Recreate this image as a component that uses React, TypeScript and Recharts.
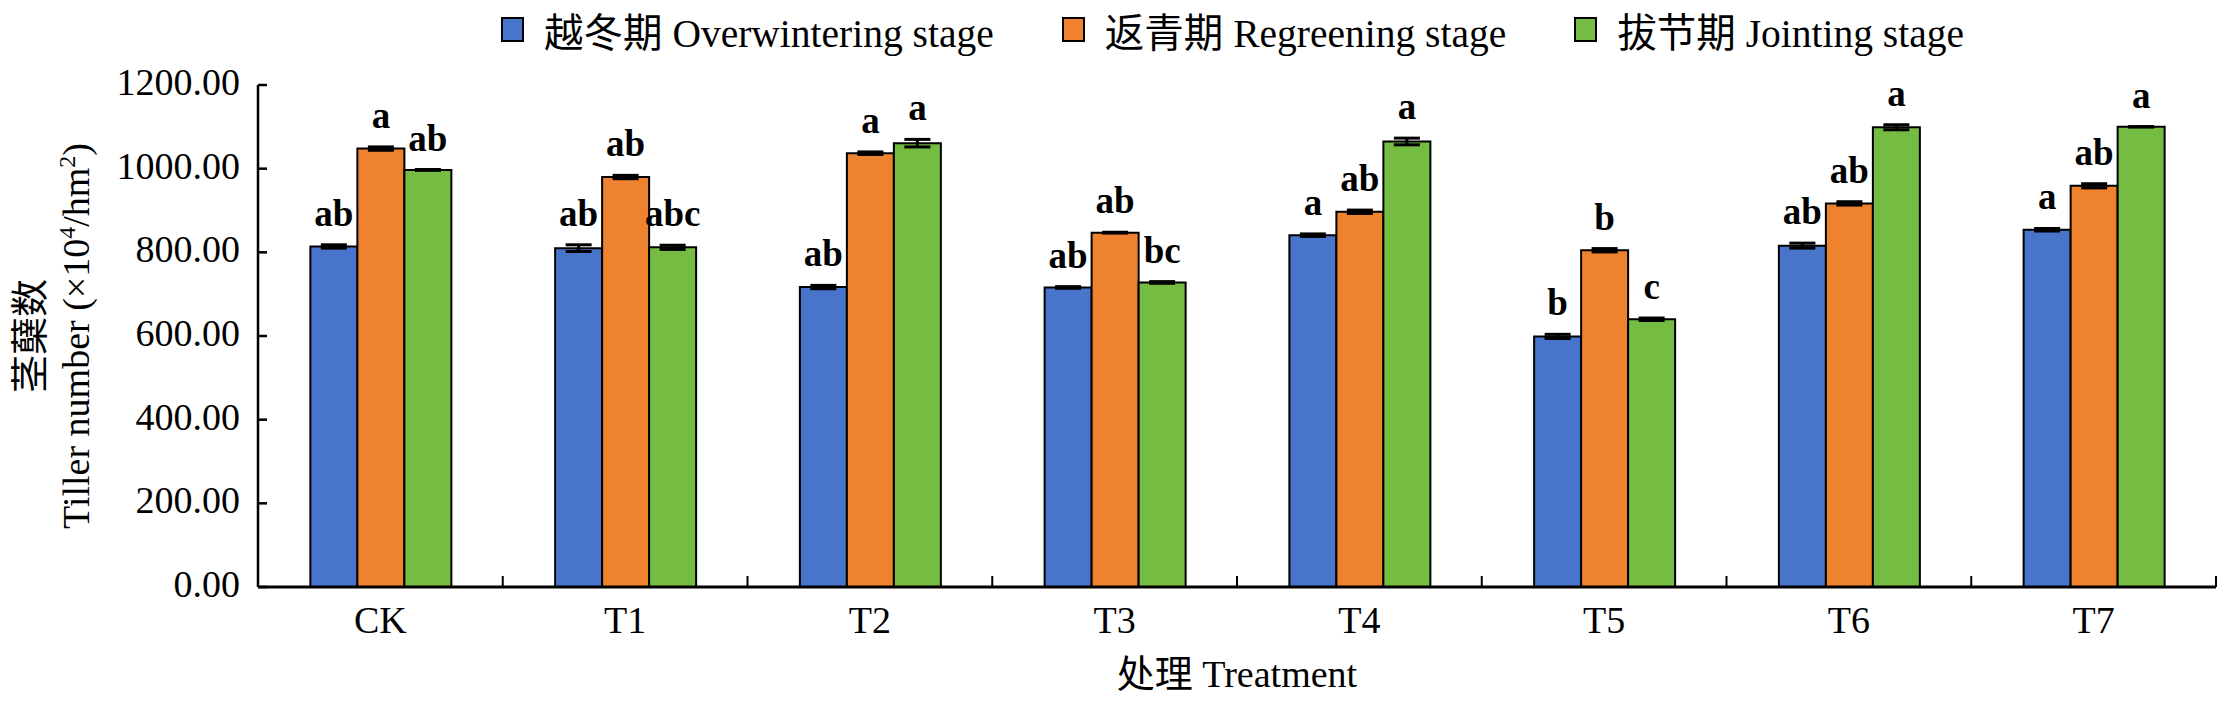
import React from "react";
import {
  BarChart,
  Bar,
  XAxis,
  YAxis,
  ErrorBar,
  LabelList,
  Legend,
} from "recharts";

// treatments
const categories = ["CK", "T1", "T2", "T3", "T4", "T5", "T6", "T7"];

// tiller number (x10^4/hm2)
const overwintering = [814, 810, 717, 716, 841, 599, 816, 854];
const regreening = [1048, 980, 1037, 847, 897, 805, 917, 959];
const jointing = [997, 812, 1061, 728, 1065, 640, 1099, 1100];

// error bars
const overwinteringErr = [4, 8, 4, 2, 3, 5, 6, 3];
const regreeningErr = [4, 4, 3, 1, 4, 4, 4, 5];
const jointingErr = [1, 5, 9, 2, 8, 3, 6, 0.5];

// significance letters
const overwinteringSig = ["ab", "ab", "ab", "ab", "a", "b", "ab", "a"];
const regreeningSig = ["a", "ab", "a", "ab", "ab", "b", "ab", "ab"];
const jointingSig = ["ab", "abc", "a", "bc", "a", "c", "a", "a"];

const yTicks = [0, 200, 400, 600, 800, 1000, 1200];

const seriesNames = [
  "越冬期 Overwintering stage",
  "返青期 Regreening stage",
  "拔节期 Jointing stage",
];
const colors = ["#4874CB", "#EE822F", "#75BD42"];

const FONT = '"Liberation Serif", "Times New Roman", "Noto Sans CJK SC", serif';
const CHART_W = 2219;
const CHART_H = 695;
const MARGIN = { top: 77, right: 11, bottom: 0, left: 0 };
const Y_W = 250;
const X_H = 116;
const PLOT_W = CHART_W - MARGIN.left - MARGIN.right - Y_W;
const PLOT_H = CHART_H - MARGIN.top - MARGIN.bottom - X_H;
const BAND = PLOT_W / categories.length;
const PX_PER_UNIT = PLOT_H / 1200;

const data = categories.map((name, i) => ({
  name,
  ow: overwintering[i],
  owErr: overwinteringErr[i],
  owSig: overwinteringSig[i],
  rg: regreening[i],
  rgErr: regreeningErr[i],
  rgSig: regreeningSig[i],
  jt: jointing[i],
  jtErr: jointingErr[i],
  jtSig: jointingSig[i],
}));

const XTick = (props: any) => {
  const { x, y, payload } = props;
  const half = BAND / 2;
  return (
    <g>
      <line x1={x + half} x2={x + half} y1={y} y2={y - 11} stroke="#000" strokeWidth={2} />
      <text x={x} y={y + 46} textAnchor="middle" fontSize={38} fontFamily={FONT} fill="#000">
        {payload.value}
      </text>
    </g>
  );
};

const YTick = (props: any) => {
  const { x, y, payload } = props;
  return (
    <g>
      <line x1={x} x2={x + 9} y1={y} y2={y} stroke="#000" strokeWidth={2.5} />
      <text x={x - 18} y={y} dy={10} textAnchor="end" fontSize={38} fontFamily={FONT} fill="#000">
        {Number(payload.value).toFixed(2)}
      </text>
    </g>
  );
};

const YTitle = (props: any) => {
  const vb = props.viewBox || {};
  const cy = vb.height ? vb.y + vb.height / 2 : MARGIN.top + PLOT_H / 2;
  return (
    <g fontFamily={FONT} fontSize={38} fill="#000">
      <text transform={`translate(35,${cy}) rotate(-90)`} textAnchor="middle">
        茎蘖数
      </text>
      <text transform={`translate(81,${cy}) rotate(-90)`} textAnchor="middle">
        Tiller number (×10
        <tspan dy={-14} fontSize={24}>4</tspan>
        <tspan dy={14}>/hm</tspan>
        <tspan dy={-14} fontSize={24}>2</tspan>
        <tspan dy={14}>)</tspan>
      </text>
    </g>
  );
};

const XTitle = (props: any) => {
  const vb = props.viewBox || {};
  const cx = vb.width ? vb.x + vb.width / 2 : Y_W + PLOT_W / 2;
  return (
    <text x={cx} y={679} textAnchor="middle" fontFamily={FONT} fontSize={38} fill="#000">
      处理 Treatment
    </text>
  );
};

const sigLabel = (errs: number[]) => (props: any) => {
  const { x, y, width, value, index } = props;
  const top = y - errs[index] * PX_PER_UNIT;
  return (
    <text
      x={x + width / 2}
      y={top - 19}
      textAnchor="middle"
      fontFamily={FONT}
      fontWeight="bold"
      fontSize={37}
      fill="#000"
    >
      {value}
    </text>
  );
};

const renderLegend = (props: any) => {
  const payload = [...(props.payload || [])].sort(
    (a: any, b: any) => seriesNames.indexOf(a.value) - seriesNames.indexOf(b.value)
  );
  return (
    <div
      style={{
        display: "flex",
        alignItems: "center",
        paddingLeft: 493,
        height: 42,
        fontFamily: FONT,
        fontSize: 39.5,
        color: "#000",
        whiteSpace: "nowrap",
      }}
    >
      {payload.map((entry: any, i: number) => (
        <div key={i} style={{ display: "flex", alignItems: "center", marginRight: 68 }}>
          <span
            style={{
              display: "inline-block",
              width: 19,
              height: 21,
              border: "2px solid #000",
              background: entry.color,
              marginRight: 20,
            }}
          />
          <span>{entry.value}</span>
        </div>
      ))}
    </div>
  );
};

export default function App() {
  return (
    <BarChart
      width={CHART_W}
      height={CHART_H}
      data={data}
      margin={MARGIN}
      barCategoryGap="21.4%"
      barGap={0}
    >
      <Legend
        verticalAlign="middle"
        align="center"
        layout="horizontal"
        content={renderLegend}
        wrapperStyle={{ top: 0, left: 0, width: CHART_W }}
      />
      <XAxis
        dataKey="name"
        height={X_H}
        tickLine={false}
        tickSize={0}
        tickMargin={0}
        axisLine={{ stroke: "#000", strokeWidth: 3 }}
        tick={<XTick />}
        interval={0}
        label={{ content: XTitle }}
      />
      <YAxis
        width={Y_W}
        domain={[0, 1200]}
        ticks={yTicks}
        tickLine={false}
        tickSize={0}
        tickMargin={0}
        axisLine={{ stroke: "#000", strokeWidth: 2.5 }}
        tick={<YTick />}
        label={{ content: YTitle }}
      />
      <Bar dataKey="ow" name={seriesNames[0]} fill={colors[0]} stroke="#000" strokeWidth={2} isAnimationActive={false}>
        <ErrorBar dataKey="owErr" width={13} stroke="#000" strokeWidth={3} direction="y" />
        <LabelList dataKey="owSig" content={sigLabel(overwinteringErr)} />
      </Bar>
      <Bar dataKey="rg" name={seriesNames[1]} fill={colors[1]} stroke="#000" strokeWidth={2} isAnimationActive={false}>
        <ErrorBar dataKey="rgErr" width={13} stroke="#000" strokeWidth={3} direction="y" />
        <LabelList dataKey="rgSig" content={sigLabel(regreeningErr)} />
      </Bar>
      <Bar dataKey="jt" name={seriesNames[2]} fill={colors[2]} stroke="#000" strokeWidth={2} isAnimationActive={false}>
        <ErrorBar dataKey="jtErr" width={13} stroke="#000" strokeWidth={3} direction="y" />
        <LabelList dataKey="jtSig" content={sigLabel(jointingErr)} />
      </Bar>
    </BarChart>
  );
}
